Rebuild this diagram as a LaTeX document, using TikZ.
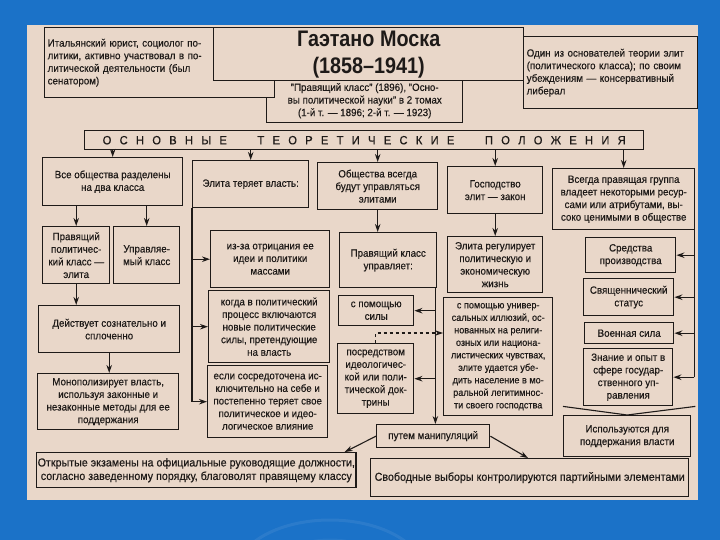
\documentclass[tikz,border=0pt]{standalone}
\usepackage{fontspec}
\setmainfont{Liberation Sans}[FakeStretch=0.93, FakeBold=0.4]
\newfontfamily\titlefont{Liberation Sans}[FakeStretch=0.88, Ligatures=TeX]
\usetikzlibrary{arrows.meta}
\usetikzlibrary{positioning}
\definecolor{sky}{RGB}{27,114,200}
\definecolor{paper}{RGB}{233,215,201}
\definecolor{ink}{RGB}{30,26,24}
\tikzset{box/.style = {draw = ink, fill = paper, line width = 1.4pt, align = center, inner sep = 1pt,
    anchor = north west, text = ink, font = \fontsize{10.5}{12.6}\selectfont}}
\tikzset{wh/.style 2 args = {minimum width = #1, minimum height = #2}}
\tikzset{wire/.style = {draw = ink, line width = 1.1pt}}
\tikzset{arr/.style = {wire, -{Stealth[length = 8pt, width = 5.5pt]}}}

\begin{document}
\begin{tikzpicture}[x = 1pt, y = -1pt]
    \useasboundingbox (0, 0) rectangle (720, 540);
    \fill [sky] (0, 0) rectangle (720, 540);
    \draw [sky!80!white, line width = 3pt, opacity = 0.35] (330, 575) ellipse (95 and 55);
    \draw [sky!80!white, line width = 3pt, opacity = 0.25] (330, 575) ellipse (60 and 35);
    \fill [paper] (27, 25) rectangle (698, 500);

    % header
    \node [box, wh = {196}{44}] (books) at (266, 78) {"Правящий класс" (1896), "Осно-\\вы политической науки" в 2 томах\\(1-й т. — 1896; 2-й т. — 1923)};
    \node [box, wh = {230}{70}, text width = 224, align = left] (bio) at (44, 27) {Итальянский юрист, социолог по-\\литики, активно участвовал в по-\\литической деятельности (был\\сенатором)};
    \node [box, wh = {310}{53}, font = \titlefont\bfseries\fontsize{22.5}{27}\selectfont] (title) at (213, 27) {Гаэтано Моска\\(1858–1941)};
    \node [box, wh = {174}{72}, text width = 168, align = left] (founder) at (523, 36) {Один из основателей теории элит\\(политического класса); по своим\\убеждениям — консервативный\\либерал};

    \node [box, wh = {559}{19}, font = \fontsize{12}{14}\selectfont] (thesis) at (84, 130)
      {\makebox[523pt][s]{О С Н О В Н Ы Е \hspace{14pt} Т Е О Р Е Т И Ч Е С К И Е \hspace{14pt} П О Л О Ж Е Н И Я}};

    % first row
    \node [box, wh = {140}{48}] (all) at (42, 157) {Все общества разделены\\на два класса};
    \node [box, wh = {116}{47}] (lose) at (192, 160) {Элита теряет власть:};
    \node [box, wh = {120}{47}] (always) at (317, 162) {Общества всегда\\будут управляться\\элитами};
    \node [box, wh = {95}{47}] (law) at (447, 166) {Господство\\элит — закон};
    \node [box, wh = {142}{61}] (res) at (552, 168) {Всегда правящая группа\\владеет некоторыми ресур-\\сами или атрибутами, вы-\\соко ценимыми в обществе};

    % left
    \node [box, wh = {67}{57}] (rule) at (42, 226) {Правящий\\политичес-\\кий класс —\\элита};
    \node [box, wh = {66}{57}] (ruled) at (113, 226) {Управляе-\\мый класс};
    \node [box, wh = {141}{47}] (act) at (38, 305) {Действует сознательно и\\сплоченно};
    \node [box, wh = {141}{56}] (mono) at (37, 373) {Монополизирует власть,\\используя законные и\\незаконные методы для ее\\поддержания};

    % loss of power
    \node [box, wh = {119}{57}] (deny) at (210, 230) {из-за отрицания ее\\идеи и политики\\массами};
    \node [box, wh = {121}{72}] (new) at (208, 290) {когда в политический\\процесс включаются\\новые политические\\силы, претендующие\\на власть};
    \node [box, wh = {120}{72}] (self) at (207, 365) {если сосредоточена ис-\\ключительно на себе и\\постепенно теряет свое\\политическое и идео-\\логическое влияние};

    % ruling class
    \node [box, wh = {97}{55}] (rc) at (339, 232) {Правящий класс\\управляет:};
    \node [box, wh = {75}{30}] (force) at (338, 295) {с помощью\\силы};
    \node [box, wh = {76}{70}] (doctr) at (337, 343) {посредством\\идеологичес-\\кой или поли-\\тической док-\\трины};
    \node [box, wh = {95}{56}] (reg) at (447, 236) {Элита регулирует\\политическую и\\экономическую\\жизнь};
    \node [box, wh = {109}{118}, font = \fontsize{9.8}{12.5}\selectfont] (illus) at (443, 297) {с помощью универ-\\сальных иллюзий, ос-\\нованных на религи-\\озных или национа-\\листических чувствах,\\элите удается убе-\\дить население в мо-\\ральной легитимнос-\\ти своего господства};
    \node [box, wh = {113}{23}] (manip) at (376, 424) {путем манипуляций};
    \node [box, wh = {316}{35}, font = \fontsize{11.5}{13.5}\selectfont] (exam) at (36, 452) {Открытые экзамены на официальные руководящие должности,\\согласно заведенному порядку, благоволят правящему классу};
    \node [box, wh = {318}{38}, font = \fontsize{11.5}{13.5}\selectfont] (elect) at (370, 458) {Свободные выборы контролируются партийными элементами};

    % resources
    \node [box, wh = {90}{35}] (prod) at (585, 237) {Средства\\производства};
    \node [box, wh = {90}{37}] (priest) at (583, 278) {Священнический\\статус};
    \node [box, wh = {89}{21}] (army) at (584, 322) {Военная сила};
    \node [box, wh = {89}{57}] (know) at (583, 348) {Знание и опыт в\\сфере государ-\\ственного уп-\\равления};
    \node [box, wh = {127}{41}] (use) at (563, 415) {Используются для\\поддержания власти};

    \draw [arr] (thesis.south -| all.north) -- (all.north);
    \draw [arr] (thesis.south -| lose.north) -- (lose.north);
    \draw [arr] (thesis.south -| always.north) -- (always.north);
    \draw [arr] (thesis.south -| law.north) -- (law.north);
    \draw [arr] (thesis.south -| res.north) -- (res.north);

    \draw [arr] (all.south -| rule.north) -- (rule.north);
    \draw [arr] (all.south -| ruled.north) -- (ruled.north);
    \draw [arr] (rule.south) -- (rule.south |- act.north);
    \draw [arr] (act.south) -- (act.south |- mono.north);

    \draw [wire] (lose.south west) -- (lose.south west |- self.west);
    \draw [arr] (lose.south west |- deny.west) -- (deny.west);
    \draw [arr] (lose.south west |- new.west) -- (new.west);
    \draw [arr] (lose.south west |- self.west) -- (self.west);

    \draw [arr] (always.south) -- (always.south |- rc.north);
    \draw [arr] (law.south) -- (law.south |- reg.north);

    \coordinate (mid) at ([xshift = -2pt]rc.south east);
    \draw [arr] (mid) -- (mid |- manip.north);
    \draw [arr] (mid |- force.east) -- (force.east);
    \draw [arr] (mid |- doctr.east) -- (doctr.east);
    \coordinate (up) at ([yshift = 10pt]doctr.north);
    \draw [arr, dashed] (doctr.north) -- (up) -- (up -| illus.west);

    \draw [arr] (manip.west) -- ([xshift = -12pt]exam.north east);
    \draw [arr] (manip.east) -- ([xshift = 158pt]elect.north west);

    \coordinate (rt) at ([xshift = -1pt]res.south east);
    \draw [wire] (rt) -- (rt |- know.east);
    \draw [arr] (rt |- prod.east) -- (prod.east);
    \draw [arr] (rt |- priest.east) -- (priest.east);
    \draw [arr] (rt |- army.east) -- (army.east);
    \draw [arr] (rt |- know.east) -- (know.east);
    \draw [wire] ([xshift = -20pt]know.south west) -- (use.north) -- ([xshift = 22pt]know.south east);
  \end{tikzpicture}
\end{document}
